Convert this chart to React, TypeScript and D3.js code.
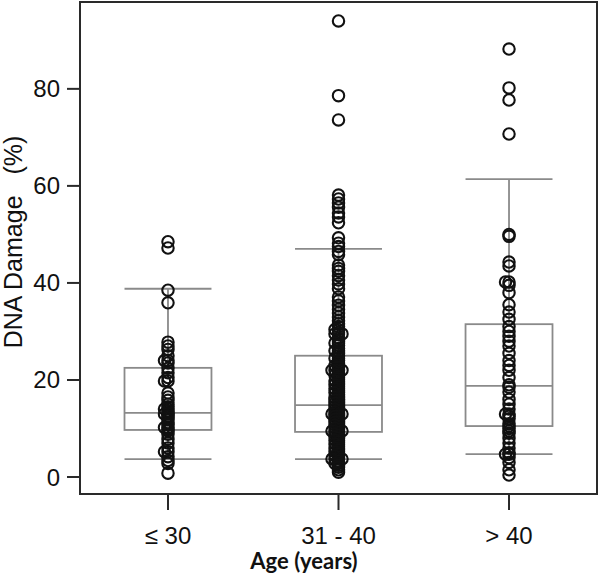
import React from "react";
import * as d3 from "d3";

const categories = ["≤ 30", "31 - 40", "> 40"];

const ageUpTo30 = [
  48.5, 47.2, 38.5, 35.9, 27.8, 27, 26.3, 25, 24, 24, 23.5, 22.4, 21.5, 20.5, 19.8, 19.8,
  17.3, 16.5, 15.8, 15, 14.5, 14, 14, 13.6, 13.2, 13, 13, 12.6, 12.2, 11.8, 11.2, 10.8,
  10.2, 10.2, 9.8, 9.5, 8.8, 7.8, 7, 6, 5.2, 5.2, 4.2, 3.4, 2.8, 0.8,
];

const age31to40 = [
  94, 78.6, 73.6, 58.1, 57.3, 56.5, 55.6, 54.4, 53.6, 52.4, 49.3, 48.2, 47.5, 46.5, 45.8,
  43.7, 43, 42.4, 41.5, 40.6, 39.8, 38.8, 37.1, 36.3, 35.4, 34.6, 33.8, 33, 32.2, 31.6,
  31, 30.4, 30.4, 29.8, 29.5, 29.5, 29.5, 28.6, 28, 27.6, 27.6, 27.1, 26.5, 26, 26, 25.5,
  25, 24.5, 24.5, 24, 23.5, 23, 23, 22.6, 22, 22, 22, 22, 21.4, 21, 21, 20.6, 20.2, 19.8,
  19.8, 19.4, 19, 19, 18.6, 18.2, 18.2, 17.8, 17.4, 17.4, 17, 16.7, 16.4, 16.4, 16.1, 15.8,
  15.8, 15.5, 15.2, 15.2, 14.9, 14.6, 14.6, 14.3, 14, 14, 13.7, 13.4, 13.4, 13.1, 13, 13,
  13, 13, 12.8, 12.5, 12.5, 12.2, 11.9, 11.9, 11.6, 11.3, 11.3, 11, 10.7, 10.7, 10.4, 10.1,
  10.1, 9.8, 9.5, 9.5, 9.5, 9.5, 9.2, 8.9, 8.9, 8.6, 8.3, 8.3, 8, 7.6, 7.6, 7.2, 6.8, 6.8,
  6.4, 6, 6, 5.6, 5.2, 5.2, 4.8, 4.4, 4.4, 4, 3.7, 3.7, 3.7, 3.7, 3.2, 2.8, 2.8, 2.4, 2, 1.5,
  1,
];

const ageOver40 = [
  88.2, 80.2, 77.7, 70.7, 50, 49.6, 44.3, 43.5, 40.2, 40.2, 39.5, 38, 35.5, 34, 32.5, 31,
  30, 29, 28, 27, 25.5, 24, 23, 22, 20.5, 19, 18.5, 17.5, 16, 15, 14, 13, 13, 12.5, 12, 11,
  10.5, 10, 9.5, 9, 8, 7, 6, 5, 4.7, 4.7, 4, 3, 1.5, 0.4,
];

const groups = [ageUpTo30, age31to40, ageOver40];

const whiskerLows = [3.7, 3.7, 4.7];
const q1s = [9.7, 9.3, 10.5];
const medians = [13.2, 14.8, 18.8];
const q3s = [22.5, 25, 31.5];
const whiskerHighs = [38.8, 47, 61.4];

const yTicks = [0, 20, 40, 60, 80];
const yTitle = "DNA Damage\u00A0\u00A0\u00A0(%)";
const xTitle = "Age (years)";

const W = 600;
const H = 576;
const left = 80;
const right = 597;
const top = 2;
const bottom = 494;

export default function App() {
  const x = d3.scalePoint<string>().domain(categories).range([left, right]).padding(0.516);
  const y = d3.scaleLinear().domain([-3.5, 97.9]).range([bottom, top]);
  const step = x.step();
  const boxW = step * 0.51;
  const offsets = [0, -3.5, 3.5, -6.5, 6.5];
  const sans = "'Liberation Sans', Arial, sans-serif";

  return (
    <svg width={W} height={H} style={{ position: "absolute", left: 0, top: 0, background: "#fff" }}>
      <rect x={0} y={0} width={W} height={H} fill="#fff" />
      {categories.map((c, i) => {
        const cx = x(c) as number;
        const grey = "#8a8a8a";
        return (
          <g key={c}>
            <line x1={cx} x2={cx} y1={y(q3s[i])} y2={y(whiskerHighs[i])} stroke={grey} strokeWidth={1.8} />
            <line x1={cx} x2={cx} y1={y(q1s[i])} y2={y(whiskerLows[i])} stroke={grey} strokeWidth={1.8} />
            <line x1={cx - boxW / 2} x2={cx + boxW / 2} y1={y(whiskerHighs[i])} y2={y(whiskerHighs[i])} stroke={grey} strokeWidth={1.8} />
            <line x1={cx - boxW / 2} x2={cx + boxW / 2} y1={y(whiskerLows[i])} y2={y(whiskerLows[i])} stroke={grey} strokeWidth={1.8} />
            <rect x={cx - boxW / 2} y={y(q3s[i])} width={boxW} height={y(q1s[i]) - y(q3s[i])} fill="none" stroke={grey} strokeWidth={1.8} />
            <line x1={cx - boxW / 2} x2={cx + boxW / 2} y1={y(medians[i])} y2={y(medians[i])} stroke={grey} strokeWidth={1.8} />
          </g>
        );
      })}
      {groups.map((vals, i) => {
        const cx = x(categories[i]) as number;
        const seen = new Map<string, number>();
        return (
          <g key={i}>
            {vals.map((v, j) => {
              const k = v.toFixed(1);
              const n = seen.get(k) ?? 0;
              seen.set(k, n + 1);
              const dx = offsets[n % offsets.length];
              return (
                <circle key={j} cx={cx + dx} cy={y(v)} r={5.7} fill="none" stroke="#111" strokeWidth={2.1} />
              );
            })}
          </g>
        );
      })}
      <rect x={left} y={top} width={right - left} height={bottom - top} fill="none" stroke="#2a2a2a" strokeWidth={2} />
      {yTicks.map((t) => (
        <g key={t}>
          <line x1={left - 13} x2={left} y1={y(t)} y2={y(t)} stroke="#2a2a2a" strokeWidth={2} />
          <text x={left - 20} y={y(t) + 8.5} textAnchor="end" fontFamily={sans} fontSize={24} fill="#111">
            {t}
          </text>
        </g>
      ))}
      {categories.map((c) => (
        <g key={c}>
          <line x1={x(c)} x2={x(c)} y1={bottom} y2={bottom + 16} stroke="#2a2a2a" strokeWidth={2} />
          <text x={x(c)} y={544} textAnchor="middle" fontFamily={sans} fontSize={24} fill="#111">
            {c}
          </text>
        </g>
      ))}
      <text x={304} y={569} textAnchor="middle" fontFamily="Lato, sans-serif" fontWeight="bold" fontSize={22} fill="#111">
        {xTitle}
      </text>
      <text
        transform={`translate(22, 242) rotate(-90)`}
        textAnchor="middle"
        fontFamily={sans}
        fontSize={25}
        fill="#111"
      >
        {yTitle}
      </text>
    </svg>
  );
}
